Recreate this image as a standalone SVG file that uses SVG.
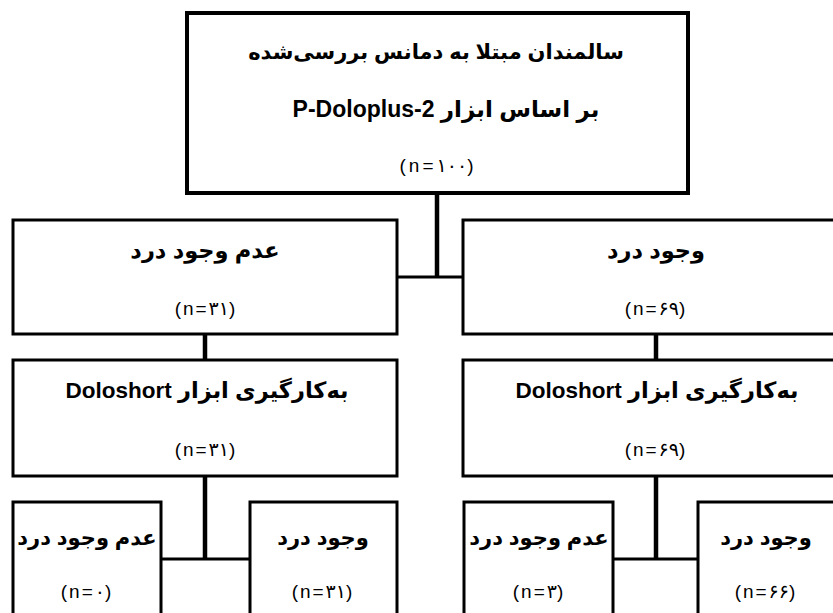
<svg xmlns="http://www.w3.org/2000/svg" width="833" height="613" viewBox="0 0 833 613">
<style>
.box{fill:#fff;stroke:#000;stroke-width:3}
.top{stroke-width:4}
.c{stroke:#000;fill:none}
.v{stroke-width:4.5}
.h{stroke-width:3}
.t{font-family:"Liberation Sans","DejaVu Sans",sans-serif;font-weight:bold;font-size:22.5px;text-anchor:middle;fill:#000}
.s{font-size:21px}
.n{font-family:"Liberation Sans","DejaVu Sans",sans-serif;font-size:19px;letter-spacing:2px;text-anchor:middle;fill:#000}
</style>
<rect width="833" height="613" fill="#fff"/>
<g id="connectors">
<line class="c v" x1="437" y1="193" x2="437" y2="277"/>
<line class="c h" x1="397" y1="277" x2="463" y2="277"/>
<line class="c v" x1="205" y1="334" x2="205" y2="360"/>
<line class="c v" x1="656" y1="334" x2="656" y2="360"/>
<line class="c v" x1="205" y1="476" x2="205" y2="559"/>
<line class="c h" x1="161" y1="559" x2="250" y2="559"/>
<line class="c v" x1="656" y1="476" x2="656" y2="559"/>
<line class="c h" x1="613" y1="559" x2="698" y2="559"/>
</g>
<g id="root">
<rect class="box top" x="187" y="13" width="501" height="180"/>
<text class="t" x="436" y="59" direction="rtl" style="font-size:21px">سالمندان مبتلا به دمانس بررسی‌شده</text>
<text class="t" x="446" y="117" direction="rtl" style="font-size:23px">بر اساس ابزار P-Doloplus-2</text>
<text class="n" x="438" y="172" style="letter-spacing:3px">(n=۱۰۰)</text>
</g>
<g id="no-pain">
<rect class="box" x="13" y="220" width="384" height="114"/>
<text class="t" x="205" y="258" direction="rtl">عدم وجود درد</text>
<text class="n" x="206" y="315">(n=۳۱)</text>
</g>
<g id="pain">
<rect class="box" x="463" y="220" width="380" height="114"/>
<text class="t" x="656" y="258" direction="rtl">وجود درد</text>
<text class="n" x="656" y="315">(n=۶۹)</text>
</g>
<g id="doloshort-left">
<rect class="box" x="13" y="360" width="384" height="116"/>
<text class="t" x="207" y="398" direction="rtl">به‌کارگیری ابزار Doloshort</text>
<text class="n" x="206" y="456">(n=۳۱)</text>
</g>
<g id="doloshort-right">
<rect class="box" x="463" y="360" width="380" height="116"/>
<text class="t" x="657" y="398" direction="rtl">به‌کارگیری ابزار Doloshort</text>
<text class="n" x="656" y="456">(n=۶۹)</text>
</g>
<g id="left-no-pain">
<rect class="box" x="13" y="502" width="148" height="120"/>
<text class="t s" x="87" y="545" direction="rtl">عدم وجود درد</text>
<text class="n" x="87" y="598">(n=۰)</text>
</g>
<g id="left-pain">
<rect class="box" x="250" y="502" width="147" height="120"/>
<text class="t s" x="323" y="545" direction="rtl">وجود درد</text>
<text class="n" x="323" y="598">(n=۳۱)</text>
</g>
<g id="right-no-pain">
<rect class="box" x="464" y="502" width="149" height="120"/>
<text class="t s" x="539" y="545" direction="rtl">عدم وجود درد</text>
<text class="n" x="539" y="598">(n=۳)</text>
</g>
<g id="right-pain">
<rect class="box" x="698" y="502" width="145" height="120"/>
<text class="t s" x="766" y="545" direction="rtl">وجود درد</text>
<text class="n" x="766" y="598">(n=۶۶)</text>
</g>
</svg>
